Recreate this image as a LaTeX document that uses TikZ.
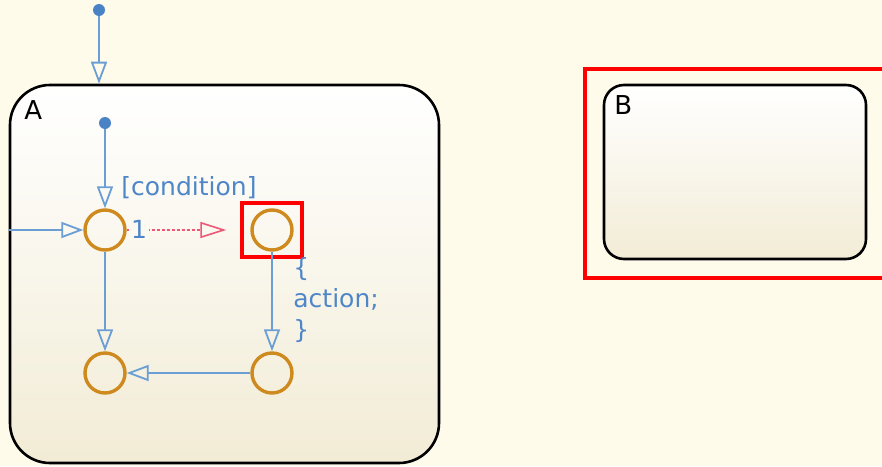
\documentclass[tikz,border=0pt]{standalone}
\usepackage{fontspec}
\setmainfont{DejaVu Sans}
\usetikzlibrary{arrows.meta}
\definecolor{canvas}{RGB}{254,251,235}
\definecolor{stateBot}{RGB}{242,236,214}
\definecolor{transBlue}{RGB}{108,158,214}
\definecolor{dotBlue}{RGB}{74,130,198}
\definecolor{labelBlue}{RGB}{78,134,200}
\definecolor{junction}{RGB}{206,138,30}
\definecolor{badRed}{RGB}{236,88,118}
\tikzset{
  statebox/.style={draw=black, line width=1.3pt, top color=white, bottom color=stateBot, inner sep=0pt},
  statename/.style={anchor=north west, inner sep=0pt, font=\fontsize{13}{15.5}\selectfont},
  junc/.style={circle, draw=junction, line width=1.7pt, minimum size=20pt, inner sep=0pt},
  defdot/.style={circle, fill=dotBlue, minimum size=6pt, inner sep=0pt},
  trans/.style={draw=transBlue, line width=0.9pt, -{Triangle[open, length=11pt, width=8pt]}},
  badtrans/.style={draw=badRed, line width=0.8pt, dash pattern=on 1.5pt off 1pt, -{Triangle[open, length=13pt, width=8pt]}},
  lbl/.style={text=labelBlue, inner sep=0pt, font=\fontsize{12.5}{15.5}\selectfont},
  hilite/.style={draw=red, line width=2.4pt, inner sep=0pt}
}
\begin{document}
\begin{tikzpicture}[x=0.5pt, y=-0.5pt]
    \useasboundingbox (0,0) rectangle (882,466);
    \clip (0,0) rectangle (882,466);
    \fill[canvas] (0,0) rectangle (882,466);
    \node[statebox, rounded corners=20pt, minimum width=214.5pt, minimum height=189pt] (stateA) at (224.5,274) {};
    \node[statebox, rounded corners=10pt, minimum width=131pt, minimum height=87pt] (stateB) at (735,172) {};
    \node[statename] (nameA) at (24,100) {A};
    \node[statename] (nameB) at (614,95) {B};
    \draw[hilite] (585,69) rectangle (900,278);
    \node[defdot] (dotTop) at (99,10) {};
    \node[defdot] (dotA) at (105,123) {};
    \node[junc] (j1) at (105,230) {};
    \node[junc] (j2) at (272,230) {};
    \node[junc] (j3) at (105,373) {};
    \node[junc] (j4) at (272,373) {};
    \node[hilite, minimum width=30pt, minimum height=27pt] (markJ2) at (272,230) {};
    \draw[trans] (dotTop) -- (dotTop |- stateA.north);
    \draw[trans] (dotA) -- (j1);
    \draw[trans] (j1 -| stateA.west) -- (j1);
    \draw[badtrans, shorten >=12pt] (j1) -- (j2);
    \draw[trans] (j1) -- (j3);
    \draw[trans] (j2) -- (j4);
    \draw[trans] (j4) -- (j3);
    \node[lbl, fill={rgb,255:red,251;green,249;blue,240}, inner sep=1pt] (one) at (139,229) {1};
    \node[lbl] (cond) at (121,188) [right] {[condition]};
    \node[lbl, align=left] (act) at (293,300) [right] {\{\\action;\\\}};
\end{tikzpicture}
\end{document}
